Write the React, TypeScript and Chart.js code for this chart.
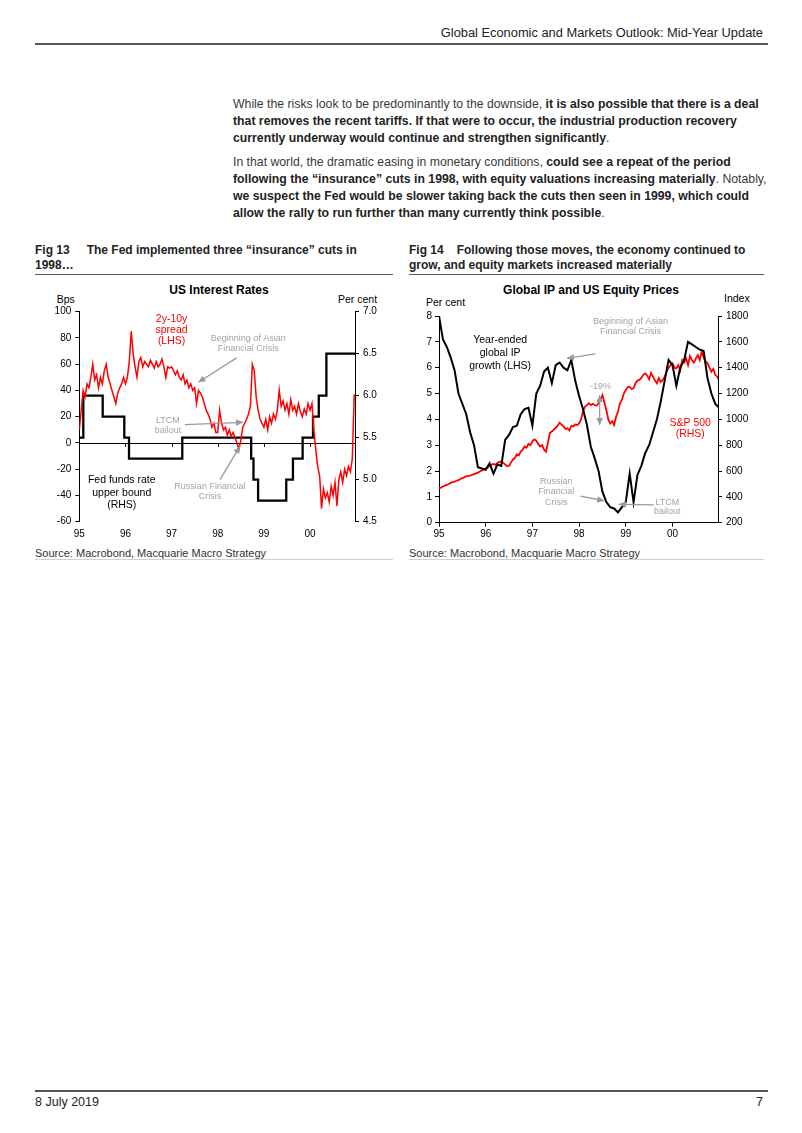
import React, { useEffect, useRef } from "react";
import { Chart, registerables } from "chart.js";

Chart.register(...registerables);

const FONT = "'Liberation Sans', Arial, Helvetica, sans-serif";

// ---------- shared x-axis ----------
const yearTickValues = [1995, 1996, 1997, 1998, 1999, 2000];
const yearTickLabels = ["95", "96", "97", "98", "99", "00"];

// ---------- Fig 13: US Interest Rates ----------
// 2y-10y spread (bps), half-monthly from Jan 1995
const spread1995 = [10, 25, 40, 35, 45, 42, 50, 60, 48, 52, 42, 50, 45, 55, 60, 50, 45, 40, 35, 30, 38, 42, 45, 50];
const spread1996 = [45, 50, 62, 85, 68, 58, 50, 62, 65, 58, 62, 60, 58, 63, 60, 57, 62, 58, 60, 64, 58, 50, 58, 57];
const spread1997 = [58, 55, 52, 55, 50, 48, 52, 45, 48, 42, 45, 40, 42, 30, 40, 38, 35, 30, 25, 22, 18, 12, 15, 8];
const spread1998 = [8, 25, 15, 10, 12, 6, 10, 5, 8, 4, 0, -5, 2, 12, 15, 18, 22, 28, 60, 55, 35, 25, 18, 15];
const spread1999 = [12, 18, 10, 20, 15, 22, 18, 25, 40, 28, 32, 25, 30, 22, 33, 25, 28, 22, 30, 24, 20, 26, 22, 30];
const spread2000 = [25, 30, 10, -5, -18, -25, -50, -35, -42, -38, -45, -33, -40, -30, -48, -28, -22, -30, -20, -25, -18, -22, -12, 37];
const spreadValues = [...spread1995, ...spread1996, ...spread1997, ...spread1998, ...spread1999, ...spread2000];

// Fed funds rate upper bound (per cent): change dates and new levels
const fedDates = [1995.0, 1995.087, 1995.507, 1995.975, 1996.077, 1997.232, 1998.725, 1998.775, 1998.875, 1999.485, 1999.63, 1999.84, 2000.065, 2000.19, 2000.355, 2000.975];
const fedRates = [5.5, 6.0, 5.75, 5.5, 5.25, 5.5, 5.25, 5.0, 4.75, 5.0, 5.25, 5.5, 5.75, 6.0, 6.5, 6.5];

// ---------- Fig 14: Global IP and US Equity Prices ----------
// Year-ended global IP growth (per cent), monthly from Jan 1995
const ip1995 = [8.0, 7.1, 6.8, 6.4, 5.9, 5.0, 4.6, 4.2, 3.5, 3.0, 2.15, 2.1];
const ip1996 = [2.05, 2.3, 1.9, 2.25, 2.2, 3.2, 3.4, 3.7, 3.75, 4.2, 4.4, 4.45];
const ip1997 = [3.75, 5.0, 5.3, 5.85, 6.0, 5.4, 6.1, 6.2, 6.0, 5.9, 6.3, 5.5];
const ip1998 = [4.9, 4.4, 3.8, 2.95, 2.5, 2.0, 1.2, 0.8, 0.6, 0.55, 0.4, 0.6];
const ip1999 = [0.8, 1.9, 0.8, 1.85, 2.2, 2.7, 3.0, 3.5, 4.0, 4.7, 5.5, 6.3];
const ip2000 = [6.1, 5.3, 6.0, 6.3, 7.0, 6.9, 6.8, 6.7, 6.65, 5.6, 5.0, 4.6];
const ipEnd = [4.45];
const ipValues = [...ip1995, ...ip1996, ...ip1997, ...ip1998, ...ip1999, ...ip2000, ...ipEnd];

// S&P 500 index, half-monthly from Jan 1995
const spx1995 = [466, 472, 480, 487, 492, 500, 508, 515, 518, 525, 530, 538, 545, 552, 560, 562, 565, 570, 576, 582, 588, 596, 605, 612];
const spx1996 = [620, 628, 640, 650, 655, 648, 662, 670, 672, 665, 650, 638, 640, 665, 690, 700, 730, 720, 750, 765, 790, 780, 810, 800];
const spx1997 = [830, 845, 835, 810, 790, 800, 765, 750, 820, 895, 905, 920, 935, 950, 975, 960, 945, 925, 930, 915, 950, 945, 960, 955];
const spx1998 = [968, 1000, 1060, 1098, 1110, 1124, 1110, 1120, 1111, 1105, 1124, 1150, 1188, 1130, 1072, 1000, 969, 985, 956, 1020, 1060, 1124, 1150, 1200];
const spx1999 = [1227, 1250, 1253, 1235, 1240, 1280, 1300, 1305, 1320, 1345, 1356, 1340, 1310, 1360, 1330, 1300, 1279, 1320, 1290, 1305, 1330, 1369, 1400, 1420];
const spx2000 = [1434, 1400, 1395, 1420, 1380, 1459, 1440, 1472, 1420, 1490, 1459, 1440, 1470, 1498, 1460, 1524, 1480, 1450, 1434, 1400, 1369, 1390, 1345, 1330];
const spxEnd = [1300];
const spxValues = [...spx1995, ...spx1996, ...spx1997, ...spx1998, ...spx1999, ...spx2000, ...spxEnd];

const RED = "#ff0000";
const GREY = "#a3a3a3";

type Note = { lines: string[]; x: number; y: number; axis: string; color: string; size: number; lh: number };
type Arrow = { x1: number; y1: number; x2: number; y2: number; axis: string; both?: boolean };

const notes13: Note[] = [
  { lines: ["2y-10y", "spread", "(LHS)"], x: 1997.0, y: 94, axis: "y", color: RED, size: 10.5, lh: 11 },
  { lines: ["Beginning of Asian", "Financial Crisis"], x: 1998.66, y: 79.5, axis: "y", color: GREY, size: 9, lh: 10 },
  { lines: ["LTCM", "bailout"], x: 1996.92, y: 17, axis: "y", color: GREY, size: 9, lh: 10 },
  { lines: ["Russian Financial", "Crisis"], x: 1997.83, y: -33.5, axis: "y", color: GREY, size: 9, lh: 9.5 },
  { lines: ["Fed funds rate", "upper bound", "(RHS)"], x: 1995.92, y: -28.5, axis: "y", color: "#000", size: 10.5, lh: 12.6 },
];
const arrows13: Arrow[] = [
  { x1: 1998.41, y1: 64.8, x2: 1997.58, y2: 46.2, axis: "y" },
  { x1: 1997.29, y1: 14, x2: 1998.55, y2: 15.7, axis: "y" },
  { x1: 1998.05, y1: -28, x2: 1998.48, y2: -2.6, axis: "y" },
];

const notes14: Note[] = [
  { lines: ["Year-ended", "global IP", "growth (LHS)"], x: 1996.31, y: 7.05, axis: "y", color: "#000", size: 10.5, lh: 12.7 },
  { lines: ["Beginning of Asian", "Financial Crisis"], x: 1999.1, y: 7.78, axis: "y", color: GREY, size: 9, lh: 9.5 },
  { lines: ["-19%"], x: 1998.46, y: 5.27, axis: "y", color: GREY, size: 9, lh: 10 },
  { lines: ["S&P 500", "(RHS)"], x: 2000.38, y: 3.87, axis: "y", color: RED, size: 10.5, lh: 11.5 },
  { lines: ["Russian", "Financial", "Crisis"], x: 1997.51, y: 1.59, axis: "y", color: GREY, size: 9, lh: 10.3 },
  { lines: ["LTCM", "bailout"], x: 1999.89, y: 0.79, axis: "y", color: GREY, size: 9, lh: 9.4 },
];
const arrows14: Arrow[] = [
  { x1: 1998.35, y1: 6.53, x2: 1997.74, y2: 6.36, axis: "y" },
  { x1: 1998.44, y1: 4.94, x2: 1998.44, y2: 3.78, axis: "y", both: true },
  { x1: 1998.03, y1: 1.03, x2: 1998.54, y2: 0.85, axis: "y" },
  { x1: 1999.6, y1: 0.69, x2: 1998.85, y2: 0.71, axis: "y" },
];

function drawHead(ctx: CanvasRenderingContext2D, x1: number, y1: number, x2: number, y2: number) {
  const ang = Math.atan2(y2 - y1, x2 - x1);
  const L = 7, W = 3.3;
  ctx.beginPath();
  ctx.moveTo(x2, y2);
  ctx.lineTo(x2 - L * Math.cos(ang) + W * Math.sin(ang), y2 - L * Math.sin(ang) - W * Math.cos(ang));
  ctx.lineTo(x2 - L * Math.cos(ang) - W * Math.sin(ang), y2 - L * Math.sin(ang) + W * Math.cos(ang));
  ctx.closePath();
  ctx.fill();
}

function makeNotesPlugin(notes: Note[], arrows: Arrow[]) {
  return {
    id: "notes",
    afterDatasetsDraw(chart: any) {
      const ctx = chart.ctx as CanvasRenderingContext2D;
      const xs = chart.scales.x;
      ctx.save();
      for (const a of arrows) {
        const ys = chart.scales[a.axis];
        const x1 = xs.getPixelForValue(a.x1), y1 = ys.getPixelForValue(a.y1);
        const x2 = xs.getPixelForValue(a.x2), y2 = ys.getPixelForValue(a.y2);
        ctx.strokeStyle = "#9a9a9a";
        ctx.fillStyle = "#9a9a9a";
        ctx.lineWidth = 1.3;
        ctx.beginPath();
        ctx.moveTo(x1, y1);
        ctx.lineTo(x2, y2);
        ctx.stroke();
        drawHead(ctx, x1, y1, x2, y2);
        if (a.both) drawHead(ctx, x2, y2, x1, y1);
      }
      for (const n of notes) {
        const ys = chart.scales[n.axis];
        const px = xs.getPixelForValue(n.x), py = ys.getPixelForValue(n.y);
        ctx.font = `${n.size}px ${FONT}`;
        ctx.fillStyle = n.color;
        ctx.textAlign = "center";
        ctx.textBaseline = "middle";
        n.lines.forEach((t, i) => ctx.fillText(t, px, py + i * n.lh));
      }
      ctx.restore();
    },
  };
}

const zeroLinePlugin = {
  id: "zeroLine",
  beforeDatasetsDraw(chart: any) {
    const { ctx, chartArea } = chart;
    const y = Math.round(chart.scales.y.getPixelForValue(0)) + 0.5;
    ctx.save();
    ctx.strokeStyle = "#000";
    ctx.lineWidth = 1;
    ctx.beginPath();
    ctx.moveTo(chartArea.left, y);
    ctx.lineTo(chartArea.right, y);
    for (const v of yearTickValues) {
      const x = Math.round(chart.scales.x.getPixelForValue(v)) + 0.5;
      ctx.moveTo(x, y);
      ctx.lineTo(x, y + 3.5);
    }
    ctx.stroke();
    ctx.restore();
  },
};

const tickFont = { family: FONT, size: 10 };
const yearTickCallback = (v: any) => {
  const i = yearTickValues.indexOf(Number(v));
  return i >= 0 ? yearTickLabels[i] : "";
};
const setYearTicks = (s: any) => {
  s.ticks = yearTickValues.map((v) => ({ value: v }));
};

function buildFig13(canvas: HTMLCanvasElement) {
  return new Chart(canvas, {
    type: "line",
    data: {
      datasets: [
        {
          label: "2y-10y spread (LHS)",
          data: spreadValues.map((v, i) => ({ x: 1995 + i / 24, y: v })),
          borderColor: RED,
          borderWidth: 1.5,
          pointRadius: 0,
          yAxisID: "y",
        },
        {
          label: "Fed funds rate upper bound (RHS)",
          data: fedDates.map((d, i) => ({ x: d, y: fedRates[i] })),
          borderColor: "#000",
          borderWidth: 2.3,
          pointRadius: 0,
          stepped: "before",
          yAxisID: "y1",
        },
      ],
    } as any,
    options: {
      animation: false,
      responsive: false,
      layout: { padding: { top: 31.7, left: 0, right: 0, bottom: 0 } },
      plugins: { legend: { display: false }, tooltip: { enabled: false } },
      scales: {
        x: {
          type: "linear",
          min: 1995,
          max: 2000.975,
          afterBuildTicks: setYearTicks,
          ticks: { callback: yearTickCallback, font: tickFont, color: "#000", padding: 7, maxRotation: 0, autoSkip: false },
          grid: { display: false, drawTicks: false },
          border: { display: false },
          afterFit: (s: any) => { s.height = 23.3; },
        },
        y: {
          position: "left",
          min: -60,
          max: 100,
          ticks: { stepSize: 20, font: tickFont, color: "#000", padding: 4 },
          grid: { drawOnChartArea: false, tickLength: 4, color: "#000" },
          border: { color: "#000", width: 1 },
          afterFit: (s: any) => { s.width = 44.3; },
        },
        y1: {
          position: "right",
          min: 4.5,
          max: 7,
          ticks: { stepSize: 0.5, callback: (v: any) => Number(v).toFixed(1), font: tickFont, color: "#000", padding: 4 },
          grid: { drawOnChartArea: false, tickLength: 4, color: "#000" },
          border: { color: "#000", width: 1 },
          afterFit: (s: any) => { s.width = 40; },
        },
      },
    } as any,
    plugins: [zeroLinePlugin, makeNotesPlugin(notes13, arrows13)],
  });
}

function buildFig14(canvas: HTMLCanvasElement) {
  return new Chart(canvas, {
    type: "line",
    data: {
      datasets: [
        {
          label: "Year-ended global IP growth (LHS)",
          data: ipValues.map((v, i) => ({ x: 1995 + i / 12, y: v })),
          borderColor: "#000",
          borderWidth: 2,
          pointRadius: 0,
          yAxisID: "y",
        },
        {
          label: "S&P 500 (RHS)",
          data: spxValues.map((v, i) => ({ x: 1995 + i / 24, y: v })),
          borderColor: RED,
          borderWidth: 1.8,
          pointRadius: 0,
          yAxisID: "y1",
        },
      ],
    } as any,
    options: {
      animation: false,
      responsive: false,
      layout: { padding: { top: 36, left: 0, right: 0, bottom: 0 } },
      plugins: { legend: { display: false }, tooltip: { enabled: false } },
      scales: {
        x: {
          type: "linear",
          min: 1995,
          max: 2000.975,
          afterBuildTicks: setYearTicks,
          ticks: { callback: yearTickCallback, font: tickFont, color: "#000", padding: 2, maxRotation: 0, autoSkip: false },
          grid: { drawOnChartArea: false, tickLength: 4, color: "#000" },
          border: { display: true, color: "#000", width: 1 },
          afterFit: (s: any) => { s.height = 22.3; },
        },
        y: {
          position: "left",
          min: 0,
          max: 8,
          ticks: { stepSize: 1, font: tickFont, color: "#000", padding: 3 },
          grid: { drawOnChartArea: false, tickLength: 4, color: "#000" },
          border: { color: "#000", width: 1 },
          afterFit: (s: any) => { s.width = 30; },
        },
        y1: {
          position: "right",
          min: 200,
          max: 1800,
          ticks: { stepSize: 200, callback: (v: any) => String(Math.round(Number(v))), font: tickFont, color: "#000", padding: 4 },
          grid: { drawOnChartArea: false, tickLength: 4, color: "#000" },
          border: { color: "#000", width: 1 },
          afterFit: (s: any) => { s.width = 51; },
        },
      },
    } as any,
    plugins: [makeNotesPlugin(notes14, arrows14)],
  });
}

function ChartCanvas({ left, top, width, height, build }: { left: number; top: number; width: number; height: number; build: (c: HTMLCanvasElement) => Chart }) {
  const ref = useRef<HTMLCanvasElement | null>(null);
  useEffect(() => {
    if (!ref.current) return;
    const chart = build(ref.current);
    return () => chart.destroy();
  }, []);
  return (
    <canvas
      ref={ref}
      width={width}
      height={height}
      style={{ position: "absolute", left, top, width, height }}
    />
  );
}

const A = (left: number, top: number, extra: any = {}) => ({ position: "absolute" as const, left, top, whiteSpace: "nowrap" as const, ...extra });

function Line({ y, children }: { y: number; children: any }) {
  return (
    <div style={A(233, y - 8.5, { fontSize: 12.25, lineHeight: "17px", color: "#3a3a3a" })}>{children}</div>
  );
}
const B = ({ children }: { children: any }) => <b style={{ color: "#222" }}>{children}</b>;

export default function App() {
  return (
    <div style={{ position: "absolute", left: 0, top: 0, width: 802, height: 1133, background: "#fff", fontFamily: FONT, overflow: "hidden" }}>
      {/* header */}
      <div style={A(0, 25, { width: 763, textAlign: "right", fontSize: 12.85, lineHeight: "16px", color: "#222" })}>
        Global Economic and Markets Outlook: Mid-Year Update
      </div>
      <div style={A(35, 43, { width: 733, height: 1.5, background: "#555" })} />

      {/* body */}
      <Line y={104}>While the risks look to be predominantly to the downside, <B>it is also possible that there is a deal</B></Line>
      <Line y={121}><B>that removes the recent tariffs. If that were to occur, the industrial production recovery</B></Line>
      <Line y={138}><B>currently underway would continue and strengthen significantly</B>.</Line>
      <Line y={162}>In that world, the dramatic easing in monetary conditions, <B>could see a repeat of the period</B></Line>
      <Line y={179}><B>following the “insurance” cuts in 1998, with equity valuations increasing materially</B>. Notably,</Line>
      <Line y={196}><B>we suspect the Fed would be slower taking back the cuts then seen in 1999, which could</B></Line>
      <Line y={213}><B>allow the rally to run further than many currently think possible</B>.</Line>

      {/* figure titles */}
      <div style={A(35, 242.5, { fontSize: 12, lineHeight: "15px", fontWeight: "bold", color: "#222" })}>Fig 13</div>
      <div style={A(86.7, 242.5, { fontSize: 12, lineHeight: "15px", fontWeight: "bold", color: "#222" })}>The Fed implemented three “insurance” cuts in</div>
      <div style={A(35, 257.5, { fontSize: 12, lineHeight: "15px", fontWeight: "bold", color: "#222" })}>1998…</div>
      <div style={A(35, 273.5, { width: 358, height: 1.5, background: "#555" })} />

      <div style={A(409, 242.5, { fontSize: 12, lineHeight: "15px", fontWeight: "bold", color: "#222" })}>Fig 14</div>
      <div style={A(456.7, 242.5, { fontSize: 12, lineHeight: "15px", fontWeight: "bold", color: "#222" })}>Following those moves, the economy continued to</div>
      <div style={A(409, 257.5, { fontSize: 12, lineHeight: "15px", fontWeight: "bold", color: "#222" })}>grow, and equity markets increased materially</div>
      <div style={A(409, 273.5, { width: 355, height: 1.5, background: "#555" })} />

      {/* chart titles and unit labels */}
      <div style={A(119, 282, { width: 200, textAlign: "center", fontSize: 12, lineHeight: "16px", fontWeight: "bold", color: "#000" })}>US Interest Rates</div>
      <div style={A(56.7, 292, { fontSize: 10.5, lineHeight: "14px", color: "#000" })}>Bps</div>
      <div style={A(338, 292, { fontSize: 10.5, lineHeight: "14px", color: "#000" })}>Per cent</div>

      <div style={A(491, 282, { width: 200, textAlign: "center", fontSize: 12, lineHeight: "16px", fontWeight: "bold", color: "#000" })}>Global IP and US Equity Prices</div>
      <div style={A(426, 294.5, { fontSize: 10.5, lineHeight: "14px", color: "#000" })}>Per cent</div>
      <div style={A(724, 291, { fontSize: 10.5, lineHeight: "14px", color: "#000" })}>Index</div>

      <ChartCanvas left={35} top={280} width={360} height={265} build={buildFig13} />
      <ChartCanvas left={409} top={280} width={360} height={265} build={buildFig14} />

      {/* sources */}
      <div style={A(35, 545.5, { fontSize: 11, lineHeight: "14px", color: "#333" })}>Source: Macrobond, Macquarie Macro Strategy</div>
      <div style={A(409, 545.5, { fontSize: 11, lineHeight: "14px", color: "#333" })}>Source: Macrobond, Macquarie Macro Strategy</div>
      <div style={A(35, 559, { width: 358, height: 1, background: "#d0d0d0" })} />
      <div style={A(409, 559, { width: 355, height: 1, background: "#d0d0d0" })} />

      {/* footer */}
      <div style={A(35, 1090, { width: 733, height: 1.5, background: "#555" })} />
      <div style={A(35, 1094, { fontSize: 12.5, lineHeight: "16px", color: "#222" })}>8 July 2019</div>
      <div style={A(0, 1094, { width: 763, textAlign: "right", fontSize: 12.5, lineHeight: "16px", color: "#222" })}>7</div>
    </div>
  );
}
